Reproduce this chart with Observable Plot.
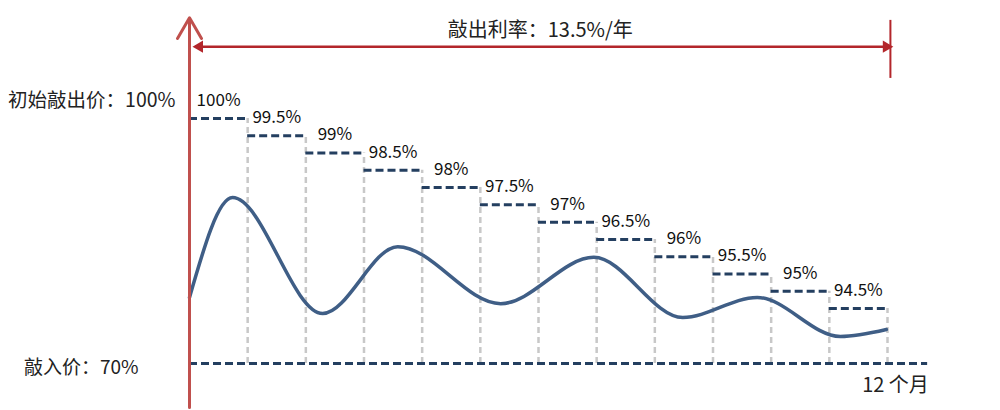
<!DOCTYPE html>
<html><head><meta charset="utf-8">
<script src="https://cdn.jsdelivr.net/npm/d3@7"></script>
<script src="https://cdn.jsdelivr.net/npm/@observablehq/plot@0.6"></script>
<style>
body{margin:0;background:#fff}
#chart{width:1000px;height:410px}
</style>
</head><body><div id="chart"></div>
<script>
// ---- data ----
const months = [0,1,2,3,4,5,6,7,8,9,10,11];
const knockOutLevels = [100,99.5,99,98.5,98,97.5,97,96.5,96,95.5,95,94.5];
const knockOutLabels = ["100%","99.5%","99%","98.5%","98%","97.5%","97%","96.5%","96%","95.5%","95%","94.5%"];
const knockInLevel = 70;
const tenorMonths = 12;
// schematic underlying price path (month, % of initial): start, turning points, end
const pathMonths = [0,0.74,2.29,3.58,5.35,6.95,8.48,9.76,11.19,11.98];
const pathValues = [94.82,97.71,92.27,96.29,94.64,95.98,90.49,94.82,82.03,85.15];
// texts
const couponLabel = "敲出利率：13.5%/年";
const initialLabel = "初始敲出价：100%";
const knockInLabel = "敲入价：70%";
const tenorLabel = "12 个月";
// annotation levels (schematic axis units)
const rateArrowLevel = 102.08;
const axisTop = 102.92, axisBottom = 50.4;
const tickTop = 102.84, tickBottom = 101.16;

const steps = months.map((m,i)=>({x1:m, x2:m+1, mid:m+0.5, level:knockOutLevels[i], label:knockOutLabels[i]}));
const path = pathMonths.map((m,i)=>({m, v:pathValues[i]}));

// schematic (broken) axis: the band between the knock-in level and the lowest knock-out level is compressed
const schematic = d3.scaleLinear([knockInLevel, 94.5, 100], [0, 55, 245]);

const FONT = "'Noto Sans CJK SC','Noto Sans',sans-serif";
const red = "#c0504d", darkRed = "#b3262b", navy = "#243f60";

const chart = Plot.plot({
  width:1000, height:410,
  marginTop:0, marginBottom:0, marginLeft:0, marginRight:0,
  style:{fontFamily:FONT, background:"#fff", color:"#222"},
  x:{domain:[0,tenorMonths], range:[189,887], axis:null},
  y:{transform:v=>schematic(v), domain:[0,245], range:[363,118], axis:null},
  marks:[
    // grey vertical dashed lines
    Plot.ruleX(steps,{x:"x2", y1:knockInLevel, y2:"level", stroke:"#c8c8c8", strokeWidth:2.5, strokeDasharray:"6,4"}),
    // knock-out step levels
    Plot.ruleY(steps,{y:"level", x1:"x1", x2:"x2", stroke:navy, strokeWidth:3, strokeDasharray:"8,4"}),
    Plot.text(steps,{x:"mid", y:"level", text:"label", dy:-18, fontSize:17, fill:"#111"}),
    // knock-in line
    Plot.ruleY([knockInLevel],{x1:0, x2:12.69, stroke:navy, strokeWidth:3, strokeDasharray:"8,4"}),
    // price path
    Plot.line(path,{x:"m", y:"v", curve:"monotone-x", stroke:"#3f5e86", strokeWidth:3.5}),
    // vertical red axis with arrow
    Plot.arrow([{}],{x1:0, x2:0, y1:axisBottom, y2:axisTop, stroke:red, strokeWidth:3, headLength:12}),
    // coupon rate arrow
    Plot.ruleY([rateArrowLevel],{x1:0.103, x2:12.05, stroke:darkRed, strokeWidth:2.5}),
    Plot.dot([{x:0.172, r:-90},{x:11.98, r:90}],{x:"x", y:rateArrowLevel, rotate:"r", symbol:"triangle", r:4.5, fill:darkRed, stroke:"none"}),
    Plot.ruleX([12.05],{y1:tickBottom, y2:tickTop, stroke:darkRed, strokeWidth:2}),
    Plot.text([couponLabel],{x:6.03, y:rateArrowLevel, dy:-16, text:d=>d, fontSize:20, fill:"#222"}),
    // side labels
    Plot.text([initialLabel],{x:0, y:100, text:d=>d, textAnchor:"end", dx:-14, dy:-18, fontSize:19.5, fill:"#222"}),
    Plot.text([knockInLabel],{x:0, y:knockInLevel, text:d=>d, textAnchor:"end", dx:-51, dy:4, fontSize:19, fill:"#222"}),
    Plot.text([tenorLabel],{x:tenorMonths, y:knockInLevel, text:d=>d, dx:8, dy:22, fontSize:20, fill:"#222"})
  ]
});
document.getElementById("chart").appendChild(chart);
</script>
</body></html>
